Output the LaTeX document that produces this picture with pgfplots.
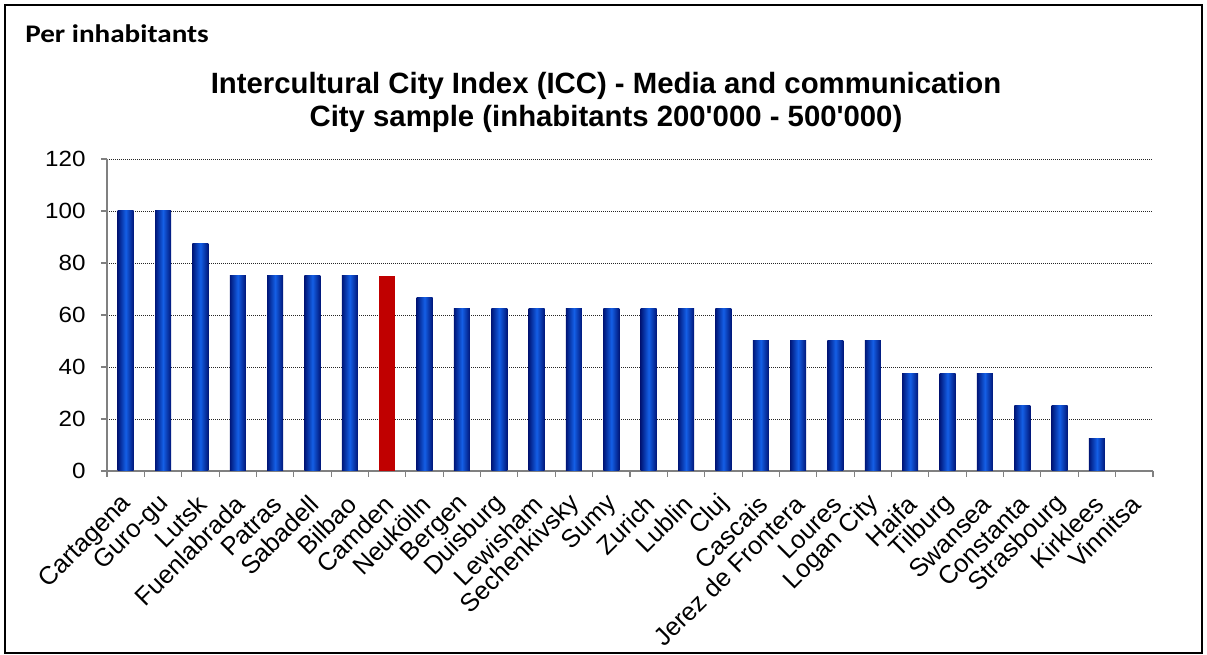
\documentclass[border=0pt]{standalone}
\usepackage{pgfplots}
\pgfplotsset{compat=1.18}
\usepackage{fontspec}
\setmainfont{Liberation Sans}
\newfontfamily\titlefont{Liberation Sans}[Ligatures=TeXOff]
\newfontfamily\tickfont{Liberation Sans}[FakeStretch=1.1]
\newfontfamily\calib{Carlito}[FakeStretch=1.15]
\definecolor{barEdge}{RGB}{0,22,120}
\definecolor{barMid}{RGB}{20,95,230}
\definecolor{camred}{RGB}{192,0,0}
\definecolor{axgray}{RGB}{128,128,128}
\pgfplotsset{bluebar/.style={ybar, bar width=12pt, draw=none, left color=barEdge, right color=barEdge, middle color=barMid}}
\begin{document}
\begin{tikzpicture}
\path[use as bounding box] (0pt,0pt) rectangle (905.25pt,491.25pt);
\draw[black, line width=1.2pt] (3.75pt,1.5pt) rectangle (901.5pt,487.5pt);
\node[anchor=base west, inner sep=0pt, font=\calib\bfseries\fontsize{19}{20}\selectfont] at (18.75pt,459pt) {Per inhabitants};
\node[anchor=base, inner sep=0pt, font=\titlefont\bfseries\fontsize{22}{24}\selectfont] at (454.5pt,420.75pt) {Intercultural City Index (ICC) - Media and communication};
\node[anchor=base, inner sep=0pt, font=\titlefont\bfseries\fontsize{22}{24}\selectfont] at (454.5pt,396pt) {City sample (inhabitants 200'000 - 500'000)};
\begin{axis}[
  at={(80.25pt,138pt)}, anchor=south west,
  scale only axis, width=784.5pt, height=234pt,
  xmin=-0.5, xmax=27.5, ymin=0, ymax=120,
  ytick={0,20,...,120},
  xtick={0,...,27},
  minor xtick={-0.5,0.5,...,27.5},
  xticklabels={Cartagena,Guro-gu,Lutsk,Fuenlabrada,Patras,Sabadell,Bilbao,Camden,Neukölln,Bergen,Duisburg,Lewisham,Sechenkivsky,Sumy,Zurich,Lublin,Cluj,Cascais,Jerez de Frontera,Loures,Logan City,Haifa,Tilburg,Swansea,Constanta,Strasbourg,Kirklees,Vinnitsa},
  axis x line*=bottom, axis y line*=left,
  axis line style={axgray, line width=0.8pt, -},
  tick align=outside,
  major tick length=4.5pt, minor tick length=4.5pt,
  x tick style={draw=none},
  minor x tick style={draw=axgray, line width=0.8pt},
  y tick style={axgray, line width=0.8pt},
  ymajorgrids,
  major grid style={black!85, line width=0.6pt, dash pattern=on 0.75pt off 0.75pt},
  /pgf/number format/assume math mode=true,
  y tick label style={font=\tickfont\fontsize{16.5}{18}\selectfont, xshift=-8pt},
  x tick label style={font=\fontsize{19}{20}\selectfont, xshift=2.25pt, yshift=-16.5pt, rotate=45, anchor=east, inner sep=1pt},
  clip=false,
]
\addplot[bluebar] coordinates {(0,100)};
\addplot[bluebar] coordinates {(1,100)};
\addplot[bluebar] coordinates {(2,87.5)};
\addplot[bluebar] coordinates {(3,75)};
\addplot[bluebar] coordinates {(4,75)};
\addplot[bluebar] coordinates {(5,75)};
\addplot[bluebar] coordinates {(6,75)};
\addplot[ybar, bar width=12pt, draw=none, fill=camred] coordinates {(7,75)};
\addplot[bluebar] coordinates {(8,66.7)};
\addplot[bluebar] coordinates {(9,62.5)};
\addplot[bluebar] coordinates {(10,62.5)};
\addplot[bluebar] coordinates {(11,62.5)};
\addplot[bluebar] coordinates {(12,62.5)};
\addplot[bluebar] coordinates {(13,62.5)};
\addplot[bluebar] coordinates {(14,62.5)};
\addplot[bluebar] coordinates {(15,62.5)};
\addplot[bluebar] coordinates {(16,62.5)};
\addplot[bluebar] coordinates {(17,50)};
\addplot[bluebar] coordinates {(18,50)};
\addplot[bluebar] coordinates {(19,50)};
\addplot[bluebar] coordinates {(20,50)};
\addplot[bluebar] coordinates {(21,37.5)};
\addplot[bluebar] coordinates {(22,37.5)};
\addplot[bluebar] coordinates {(23,37.5)};
\addplot[bluebar] coordinates {(24,25)};
\addplot[bluebar] coordinates {(25,25)};
\addplot[bluebar] coordinates {(26,12.5)};
\addplot[bluebar] coordinates {(27,0)};
\end{axis}
\end{tikzpicture}
\end{document}
